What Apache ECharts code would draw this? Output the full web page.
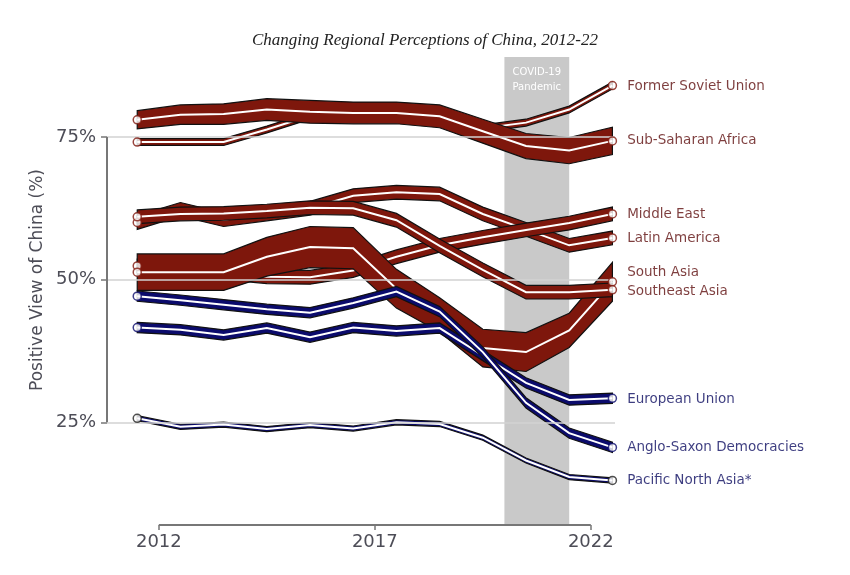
<!DOCTYPE html>
<html><head><meta charset="utf-8">
<script src="https://cdn.jsdelivr.net/npm/echarts@6/dist/echarts.min.js"></script>
<style>html,body{margin:0;padding:0;background:#fff}#c{width:850px;height:575px}</style>
</head><body><div id="c"></div>
<script>
// ---------------- data ----------------
const years = [2011.5, 2012.5, 2013.5, 2014.5, 2015.5, 2016.5, 2017.5, 2018.5, 2019.5, 2020.5, 2021.5, 2022.5];
const xTicks = [2012, 2017, 2022];
const yTicks = [25, 50, 75];
const covidStart = 2020.0;
const covidEnd = 2021.5;

const formerSovietUnion       = [74.1, 74.1, 74.1, 76.3, 78.7, 79.0, 79.0, 78.5, 76.5, 77.5, 79.8, 84.0];
const formerSovietUnionSpread = [0.6, 0.6, 0.6, 0.6, 0.6, 0.6, 0.6, 0.6, 0.6, 0.6, 0.6, 0.6];

const subSaharanAfrica        = [78.0, 78.9, 79.0, 79.8, 79.4, 79.2, 79.2, 78.6, 76.0, 73.4, 72.6, 74.3];
const subSaharanAfricaSpread  = [1.6, 1.7, 1.8, 1.9, 2.0, 1.9, 1.9, 2.0, 2.1, 2.2, 2.3, 2.4];

const southAsia               = [51.3, 51.3, 51.3, 54.0, 55.7, 55.5, 48.4, 43.8, 38.0, 37.3, 41.1, 49.6];
const southAsiaSpread         = [3.2, 3.2, 3.2, 3.4, 3.6, 3.6, 3.4, 3.0, 3.3, 3.4, 3.0, 3.4];

const latinAmerica            = [60.0, 62.3, 60.5, 61.5, 62.5, 64.7, 65.3, 65.0, 61.5, 58.8, 56.0, 57.3];
const latinAmericaSpread      = [1.2, 1.2, 1.2, 1.2, 1.2, 1.2, 1.2, 1.2, 1.2, 1.2, 1.2, 1.2];

const middleEast              = [52.4, 51.8, 51.2, 50.5, 50.4, 51.6, 54.0, 56.0, 57.4, 58.7, 59.9, 61.5];
const middleEastSpread        = [1.2, 1.2, 1.2, 1.2, 1.2, 1.2, 1.2, 1.2, 1.2, 1.2, 1.2, 1.2];

const southeastAsia           = [61.0, 61.5, 61.6, 62.0, 62.6, 62.5, 60.4, 55.9, 51.7, 47.8, 47.8, 48.2];
const southeastAsiaSpread     = [1.2, 1.2, 1.2, 1.2, 1.2, 1.2, 1.2, 1.2, 1.2, 1.2, 1.2, 1.2];

const pacificNorthAsia        = [25.7, 24.2, 24.6, 23.8, 24.5, 23.9, 25.0, 24.7, 22.3, 18.3, 15.4, 14.8];
const pacificNorthAsiaSpread  = [0.45, 0.45, 0.45, 0.45, 0.45, 0.45, 0.45, 0.45, 0.45, 0.45, 0.45, 0.45];

const europeanUnion           = [41.6, 41.2, 40.3, 41.5, 39.9, 41.6, 41.0, 41.5, 36.7, 31.9, 28.9, 29.2];
const europeanUnionSpread     = [0.9, 0.9, 0.9, 0.9, 0.9, 0.9, 0.9, 0.9, 0.9, 0.9, 0.9, 0.9];

const angloSaxon              = [47.1, 46.4, 45.6, 44.8, 44.2, 45.9, 47.9, 44.4, 37.3, 28.4, 23.1, 20.6];
const angloSaxonSpread        = [0.9, 0.9, 0.9, 0.9, 0.9, 0.9, 0.9, 0.9, 0.9, 0.9, 0.9, 0.9];

// ---------------- styles ----------------
const RED = '#7e170c', RED_TXT = '#5e0e0e';
const NAVY = '#0b0b6c', NAVY_TXT = '#0d0d60';

// drawing order: later entries are painted on top
const regions = [
  {name:'Former Soviet Union', values:formerSovietUnion, spread:formerSovietUnionSpread, fill:RED, edge:RED, txt:RED_TXT, dy:1},
  {name:'Sub-Saharan Africa', values:subSaharanAfrica, spread:subSaharanAfricaSpread, fill:RED, edge:RED, txt:RED_TXT, dy:0},
  {name:'Latin America', values:latinAmerica, spread:latinAmericaSpread, fill:RED, edge:RED, txt:RED_TXT, dy:1},
  {name:'Middle East', values:middleEast, spread:middleEastSpread, fill:RED, edge:RED, txt:RED_TXT, dy:1},
  {name:'South Asia', values:southAsia, spread:southAsiaSpread, fill:RED, edge:RED, txt:RED_TXT, dy:-9},
  {name:'Southeast Asia', values:southeastAsia, spread:southeastAsiaSpread, fill:RED, edge:RED, txt:RED_TXT, dy:2},
  {name:'Pacific North Asia*', values:pacificNorthAsia, spread:pacificNorthAsiaSpread, fill:NAVY, edge:'#222', txt:NAVY_TXT, dy:0},
  {name:'European Union', values:europeanUnion, spread:europeanUnionSpread, fill:NAVY, edge:NAVY, txt:NAVY_TXT, dy:1},
  {name:'Anglo-Saxon Democracies', values:angloSaxon, spread:angloSaxonSpread, fill:NAVY, edge:NAVY, txt:NAVY_TXT, dy:0}
];

const xMin = 2010.8, xMax = 2022.56, yMin = 7, yMax = 89;
const FONT = 'DejaVu Sans';
const AXIS_TXT = '#4d4d57';

function bandSeries(r, z) {
  return {
    type:'custom', name:r.name, coordinateSystem:'cartesian2d', z:z, silent:true, clip:false, animation:false,
    data:[[years[0], r.values[0]]],
    renderItem:function(params, api){
      const up = [], lo = [], mid = [];
      for (let i = 0; i < years.length; i++) {
        up.push(api.coord([years[i], r.values[i] + r.spread[i]]));
        lo.push(api.coord([years[i], r.values[i] - r.spread[i]]));
        mid.push(api.coord([years[i], r.values[i]]));
      }
      return {type:'group', children:[
        {type:'polygon', shape:{points: up.concat(lo.reverse())}, style:{fill:r.fill, stroke:'#111', lineWidth:1.2}},
        {type:'polyline', shape:{points: mid}, style:{fill:'none', stroke:'#fff', lineWidth:2}}
      ]};
    }
  };
}

const endpointData = [];
regions.forEach(function(r){
  const n = years.length;
  endpointData.push({value:[years[0], r.values[0]], itemStyle:{color:'#fff', borderColor:r.edge, borderWidth:1.5}});
  endpointData.push({value:[years[n-1], r.values[n-1]], itemStyle:{color:'#fff', borderColor:r.edge, borderWidth:1.5},
    label:{show:true, position:'right', distance:10, offset:[0, r.dy], formatter:r.name, color:r.txt, fontSize:13.5, fontFamily:FONT}});
});

const series = [];
series.push({
  type:'line', data:[], z:1, silent:true, animation:false,
  markArea:{silent:true, itemStyle:{color:'#c9c9c9'},
    label:{show:true, position:'insideTop', distance:8, formatter:'COVID-19\nPandemic', color:'#fff', fontSize:10, lineHeight:15, fontFamily:FONT},
    data:[[{xAxis:covidStart}, {xAxis:covidEnd}]]},
  markLine:{silent:true, symbol:['none','none'], animation:false, label:{show:false},
    data:[
      [{coord:[xMin, yTicks[0]], lineStyle:{color:'#d2d2d2', width:1.5, type:'solid'}}, {coord:[xMax, yTicks[0]]}],
      [{coord:[xMin, yTicks[1]], lineStyle:{color:'#d2d2d2', width:1.5, type:'solid'}}, {coord:[xMax, yTicks[1]]}],
      [{coord:[xMin, yTicks[2]], lineStyle:{color:'#d2d2d2', width:1.5, type:'solid'}}, {coord:[xMax, yTicks[2]]}],
      [{coord:[xMin, yTicks[0]], lineStyle:{color:'#777', width:2, type:'solid'}}, {coord:[xMin, yTicks[2]]}],
      [{coord:[xTicks[0], yMin], lineStyle:{color:'#777', width:2, type:'solid'}}, {coord:[xTicks[2], yMin]}]
    ]}
});
regions.forEach(function(r){ series.push(bandSeries(r, 2)); });
series.push({type:'scatter', z:5, silent:true, animation:false, symbol:'circle', symbolSize:8, data:endpointData});

const chart = echarts.init(document.getElementById('c'), null, {renderer:'canvas'});
chart.setOption({
  backgroundColor:'#fff',
  animation:false,
  title:{text:'Changing Regional Perceptions of China, 2012-22', left:'center', top:27,
    textStyle:{fontFamily:'Liberation Serif', fontStyle:'italic', fontWeight:'normal', fontSize:17, color:'#222'}},
  grid:{left:107, right:235, top:57, bottom:50, containLabel:false},
  xAxis:{type:'value', min:xMin, max:xMax,
    axisLine:{show:false}, splitLine:{show:false},
    axisTick:{show:true, customValues:xTicks, length:5, lineStyle:{color:'#777', width:1.5}},
    axisLabel:{show:true, customValues:xTicks, margin:8, fontSize:18, fontFamily:FONT, color:AXIS_TXT, formatter:function(v){return String(v);}}},
  yAxis:{type:'value', min:yMin, max:yMax,
    axisLine:{show:false}, splitLine:{show:false},
    axisTick:{show:true, customValues:yTicks, length:6, lineStyle:{color:'#777', width:1.5}},
    axisLabel:{show:true, customValues:yTicks, margin:11, fontSize:18, fontFamily:FONT, color:AXIS_TXT, formatter:'{value}%'}},
  graphic:[{type:'text', x:38, y:280, rotation:Math.PI/2, silent:true,
    style:{text:'Positive View of China (%)', font:'17px "DejaVu Sans"', fill:AXIS_TXT, align:'center', verticalAlign:'middle'}}],
  series:series
});
</script>
</body></html>
